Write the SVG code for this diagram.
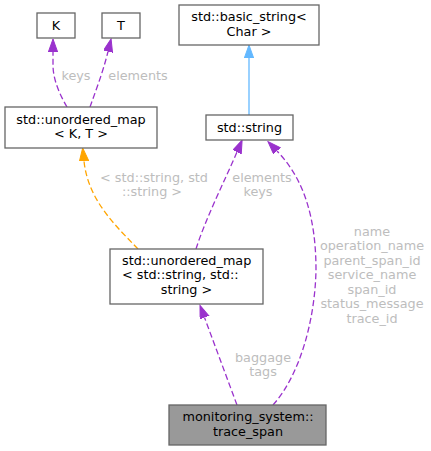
<svg xmlns="http://www.w3.org/2000/svg" width="431" height="451" viewBox="0 0 431 451">
<style>
.n{fill:#ffffff;stroke:#666666;stroke-width:1.3}
.g{fill:#999999;stroke:#666666;stroke-width:1.3}
text{font-family:"DejaVu Sans",sans-serif;font-size:12.8px;fill:#000000}
.m{text-anchor:middle}
.s{text-anchor:start}
.l{fill:#bdbdbd;text-anchor:middle}
.ep{fill:none;stroke:#9a32cd;stroke-width:1.3;stroke-dasharray:6,3;marker-end:url(#ap)}
.eo{fill:none;stroke:#ffa500;stroke-width:1.3;stroke-dasharray:6,3;marker-end:url(#ao)}
.eb{fill:none;stroke:#63b8ff;stroke-width:1.3;marker-end:url(#ab)}
</style>
<defs>
<marker id="ap" markerUnits="userSpaceOnUse" markerWidth="14" markerHeight="11" refX="0" refY="4.65" orient="auto"><path d="M0,0 L13,4.65 L0,9.3 z" fill="#9a32cd" stroke="#9a32cd"/></marker>
<marker id="ao" markerUnits="userSpaceOnUse" markerWidth="14" markerHeight="11" refX="0" refY="4.65" orient="auto"><path d="M0,0 L13,4.65 L0,9.3 z" fill="#ffa500" stroke="#ffa500"/></marker>
<marker id="ab" markerUnits="userSpaceOnUse" markerWidth="14" markerHeight="11" refX="0" refY="4.65" orient="auto"><path d="M0,0 L13,4.65 L0,9.3 z" fill="#63b8ff" stroke="#63b8ff"/></marker>
</defs>
<g id="connectors">
<path class="ep" d="M67,107 C60,95 53,80 53,65 L53,52"/>
<text class="l" x="76" y="80">keys</text>
<path class="ep" d="M90,107 C96,90 103,72 108,51.5"/>
<text class="l" x="138" y="80">elements</text>
<path class="eb" d="M249,115 L249,58"/>
<path class="eo" d="M138,249 C115,225 88,200 84,161"/>
<text class="l" x="154" y="182">&lt; std::string, std</text>
<text class="l" x="152" y="196">::string &gt;</text>
<path class="ep" d="M196,249 C205,220 225,180 237,152"/>
<text class="l" x="262" y="182">elements</text>
<text class="l" x="258" y="196">keys</text>
<path class="ep" d="M273,405 C300,375 315,320 316,270 C316,220 305,180 277,151"/>
<text class="l" x="372" y="236">name</text>
<text class="l" x="372" y="250">operation_name</text>
<text class="l" x="372" y="265">parent_span_id</text>
<text class="l" x="372" y="279">service_name</text>
<text class="l" x="372" y="294">span_id</text>
<text class="l" x="372" y="308">status_message</text>
<text class="l" x="372" y="323">trace_id</text>
<path class="ep" d="M237,405 L204.5,317.5"/>
<text class="l" x="263" y="362">baggage</text>
<text class="l" x="263" y="376">tags</text>
</g>
<g id="node-K"><rect class="n" x="37" y="13" width="38" height="25"/><text class="m" x="56" y="30">K</text></g>
<g id="node-T"><rect class="n" x="102" y="13" width="38" height="25"/><text class="m" x="121" y="30">T</text></g>
<g id="node-basic_string"><rect class="n" x="179" y="5" width="140" height="40"/><text class="m" x="249" y="21">std::basic_string&lt;</text><text class="m" x="249" y="36">Char &gt;</text></g>
<g id="node-string"><rect class="n" x="206" y="115" width="87" height="25"/><text class="m" x="249.5" y="132">std::string</text></g>
<g id="node-umap_KT"><rect class="n" x="5" y="107" width="152" height="41"/><text class="m" x="81" y="124">std::unordered_map</text><text class="m" x="81" y="138">&lt; K, T &gt;</text></g>
<g id="node-umap_ss"><rect class="n" x="110" y="249" width="153" height="55"/><text class="s" x="122" y="265">std::unordered_map</text><text class="s" x="122" y="279">&lt; std::string, std::</text><text class="m" x="186.5" y="294">string &gt;</text></g>
<g id="node-trace_span"><rect class="g" x="169" y="405" width="157" height="40"/><text class="m" x="248" y="421">monitoring_system::</text><text class="m" x="248" y="436">trace_span</text></g>
</svg>
